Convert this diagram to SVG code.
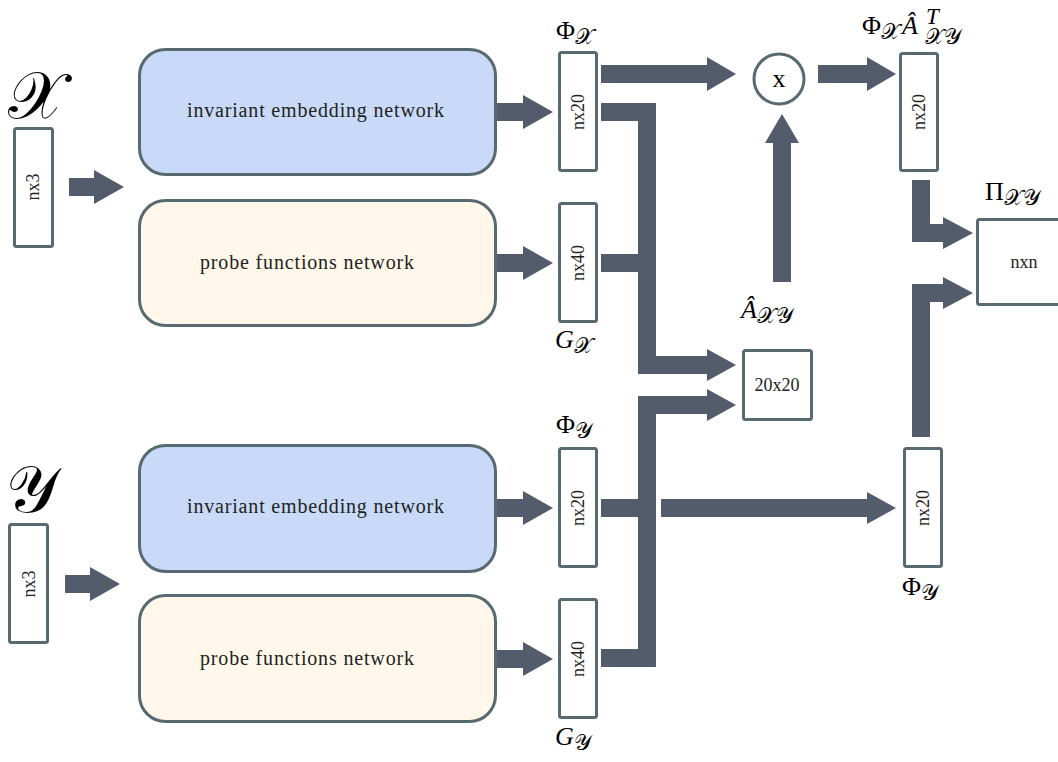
<svg xmlns="http://www.w3.org/2000/svg" width="1058" height="762" viewBox="0 0 1058 762">
<style>
.box{fill:#ffffff;stroke:#586a71;stroke-width:3}
.blue{fill:#c9daf8;stroke:#586a71;stroke-width:3}
.yel{fill:#fff8ea;stroke:#586a71;stroke-width:3}
.arr{fill:#525c6b;stroke:none}
.lbl{font-family:"Liberation Serif","DejaVu Serif",serif;fill:#222222;font-size:20px}
.dim{font-family:"Liberation Serif","DejaVu Serif",serif;fill:#222222;font-size:18px;text-anchor:middle;dominant-baseline:central}
.m{font-family:"Liberation Serif","DejaVu Serif",serif;fill:#000000;font-size:26px}
.s{font-family:"DejaVu Serif","DejaVu Sans","Noto Sans",serif;font-style:normal;font-size:22px;font-weight:normal;fill:#000000}
.sup{font-size:23px;font-style:italic}
.big{font-family:"DejaVu Serif","DejaVu Sans","Noto Sans",serif;font-size:66px;fill:#000}
</style>
<rect width="1058" height="762" fill="#ffffff"/>
<g id="connectors">
<polygon class="arr" points="69,178 94,178 94,170 124,187 94,204 94,196 69,196"/>
<polygon class="arr" points="65,575 90,575 90,567 120,584 90,601 90,593 65,593"/>
<polygon class="arr" points="497,103 523,103 523,95 553,112 523,129 523,121 497,121"/>
<polygon class="arr" points="497,254 523,254 523,246 553,263 523,280 523,272 497,272"/>
<polygon class="arr" points="497,499 523,499 523,491 553,508 523,525 523,517 497,517"/>
<polygon class="arr" points="497,650 523,650 523,642 553,659 523,676 523,668 497,668"/>
<polygon class="arr" points="601,65 707,65 707,57 736,74 707,91 707,83 601,83"/>
<polygon class="arr" points="601,103 656,103 656,356 707,356 707,349 736,365 707,381 707,374 638,374 638,121 601,121"/>
<rect class="arr" x="601" y="254" width="37" height="18"/>
<polygon class="arr" points="601,649 638,649 638,396 707,396 707,389 736,405 707,421 707,414 656,414 656,667 601,667"/>
<rect class="arr" x="601" y="499" width="37" height="18"/>
<polygon class="arr" points="661,499 867,499 867,492 896,508 867,524 867,517 661,517"/>
<polygon class="arr" points="773,282 773,143 765,143 782,114 799,143 791,143 791,282"/>
<polygon class="arr" points="818,65 867,65 867,57 896,74 867,91 867,83 818,83"/>
<polygon class="arr" points="912,180 930,180 930,224 943,224 943,217 973,233 943,249 943,242 912,242"/>
<polygon class="arr" points="912,437 912,284 943,284 943,277 973,293 943,309 943,302 930,302 930,437"/>
</g>
<g id="x-input">
<text class="big" x="8" y="118">𝒳</text>
<rect class="box" x="14.5" y="128.5" width="38" height="118" rx="2"/>
<text class="dim" transform="translate(33,187) rotate(-90)">nx3</text>
</g>
<g id="y-input">
<text class="big" x="6" y="512">𝒴</text>
<rect class="box" x="9.5" y="524.5" width="38" height="118" rx="2"/>
<text class="dim" transform="translate(29,584) rotate(-90)">nx3</text>
</g>
<g id="x-embed">
<rect class="blue" x="139.5" y="49.5" width="356" height="125" rx="26"/>
<text class="lbl" x="187" y="117" textLength="257">invariant embedding network</text>
</g>
<g id="x-probe">
<rect class="yel" x="139.5" y="200.5" width="356" height="125" rx="26"/>
<text class="lbl" x="200" y="269" textLength="214">probe functions network</text>
</g>
<g id="y-embed">
<rect class="blue" x="139.5" y="445.5" width="356" height="126" rx="26"/>
<text class="lbl" x="187" y="513" textLength="257">invariant embedding network</text>
</g>
<g id="y-probe">
<rect class="yel" x="139.5" y="595.5" width="356" height="126" rx="26"/>
<text class="lbl" x="200" y="665" textLength="214">probe functions network</text>
</g>
<g id="phi-x">
<rect class="box" x="559.5" y="52.5" width="37" height="118" rx="2"/>
<text class="dim" transform="translate(578,112) rotate(-90)">nx20</text>
<text class="m" x="556" y="39">Φ<tspan class="s" dy="5">𝒳</tspan></text>
</g>
<g id="g-x">
<rect class="box" x="559.5" y="203.5" width="37" height="118" rx="2"/>
<text class="dim" transform="translate(578,263) rotate(-90)">nx40</text>
<text class="m" x="555" y="348" font-style="italic">G<tspan class="s" dy="5">𝒳</tspan></text>
</g>
<g id="phi-y">
<rect class="box" x="559.5" y="448.5" width="37" height="118" rx="2"/>
<text class="dim" transform="translate(578,508) rotate(-90)">nx20</text>
<text class="m" x="556" y="433">Φ<tspan class="s" dy="5">𝒴</tspan></text>
</g>
<g id="g-y">
<rect class="box" x="559.5" y="599.5" width="37" height="118" rx="2"/>
<text class="dim" transform="translate(578,659) rotate(-90)">nx40</text>
<text class="m" x="555" y="745" font-style="italic">G<tspan class="s" dy="5">𝒴</tspan></text>
</g>
<g id="multiply">
<circle cx="779" cy="79" r="25" fill="#ffffff" stroke="#586a71" stroke-width="3"/>
<text class="m" x="779" y="78" text-anchor="middle" dominant-baseline="central" font-size="30">x</text>
</g>
<g id="a-xy">
<rect class="box" x="743.5" y="350.5" width="68" height="69" rx="2"/>
<text class="dim" x="777" y="385">20x20</text>
<text class="m" x="741" y="318" font-style="italic">Â<tspan class="s" dy="5">𝒳𝒴</tspan></text>
</g>
<g id="phi-a">
<rect class="box" x="900.5" y="53.5" width="37" height="117" rx="2"/>
<text class="dim" transform="translate(919,112) rotate(-90)">nx20</text>
<text class="m" x="862" y="34">Φ<tspan class="s" dy="5">𝒳</tspan><tspan x="902" y="34" font-style="italic">Â</tspan><tspan class="sup" x="926" y="24">T</tspan><tspan class="s" x="925" y="44">𝒳𝒴</tspan></text>
</g>
<g id="phi-y-right">
<rect class="box" x="904.5" y="448.5" width="37" height="118" rx="2"/>
<text class="dim" transform="translate(923,508) rotate(-90)">nx20</text>
<text class="m" x="902" y="595">Φ<tspan class="s" dy="5">𝒴</tspan></text>
</g>
<g id="pi-xy">
<rect class="box" x="977.5" y="219.5" width="100" height="85" rx="2"/>
<text class="dim" x="1024" y="262">nxn</text>
<text class="m" x="985" y="200">Π<tspan class="s" dy="5">𝒳𝒴</tspan></text>
</g>
</svg>
